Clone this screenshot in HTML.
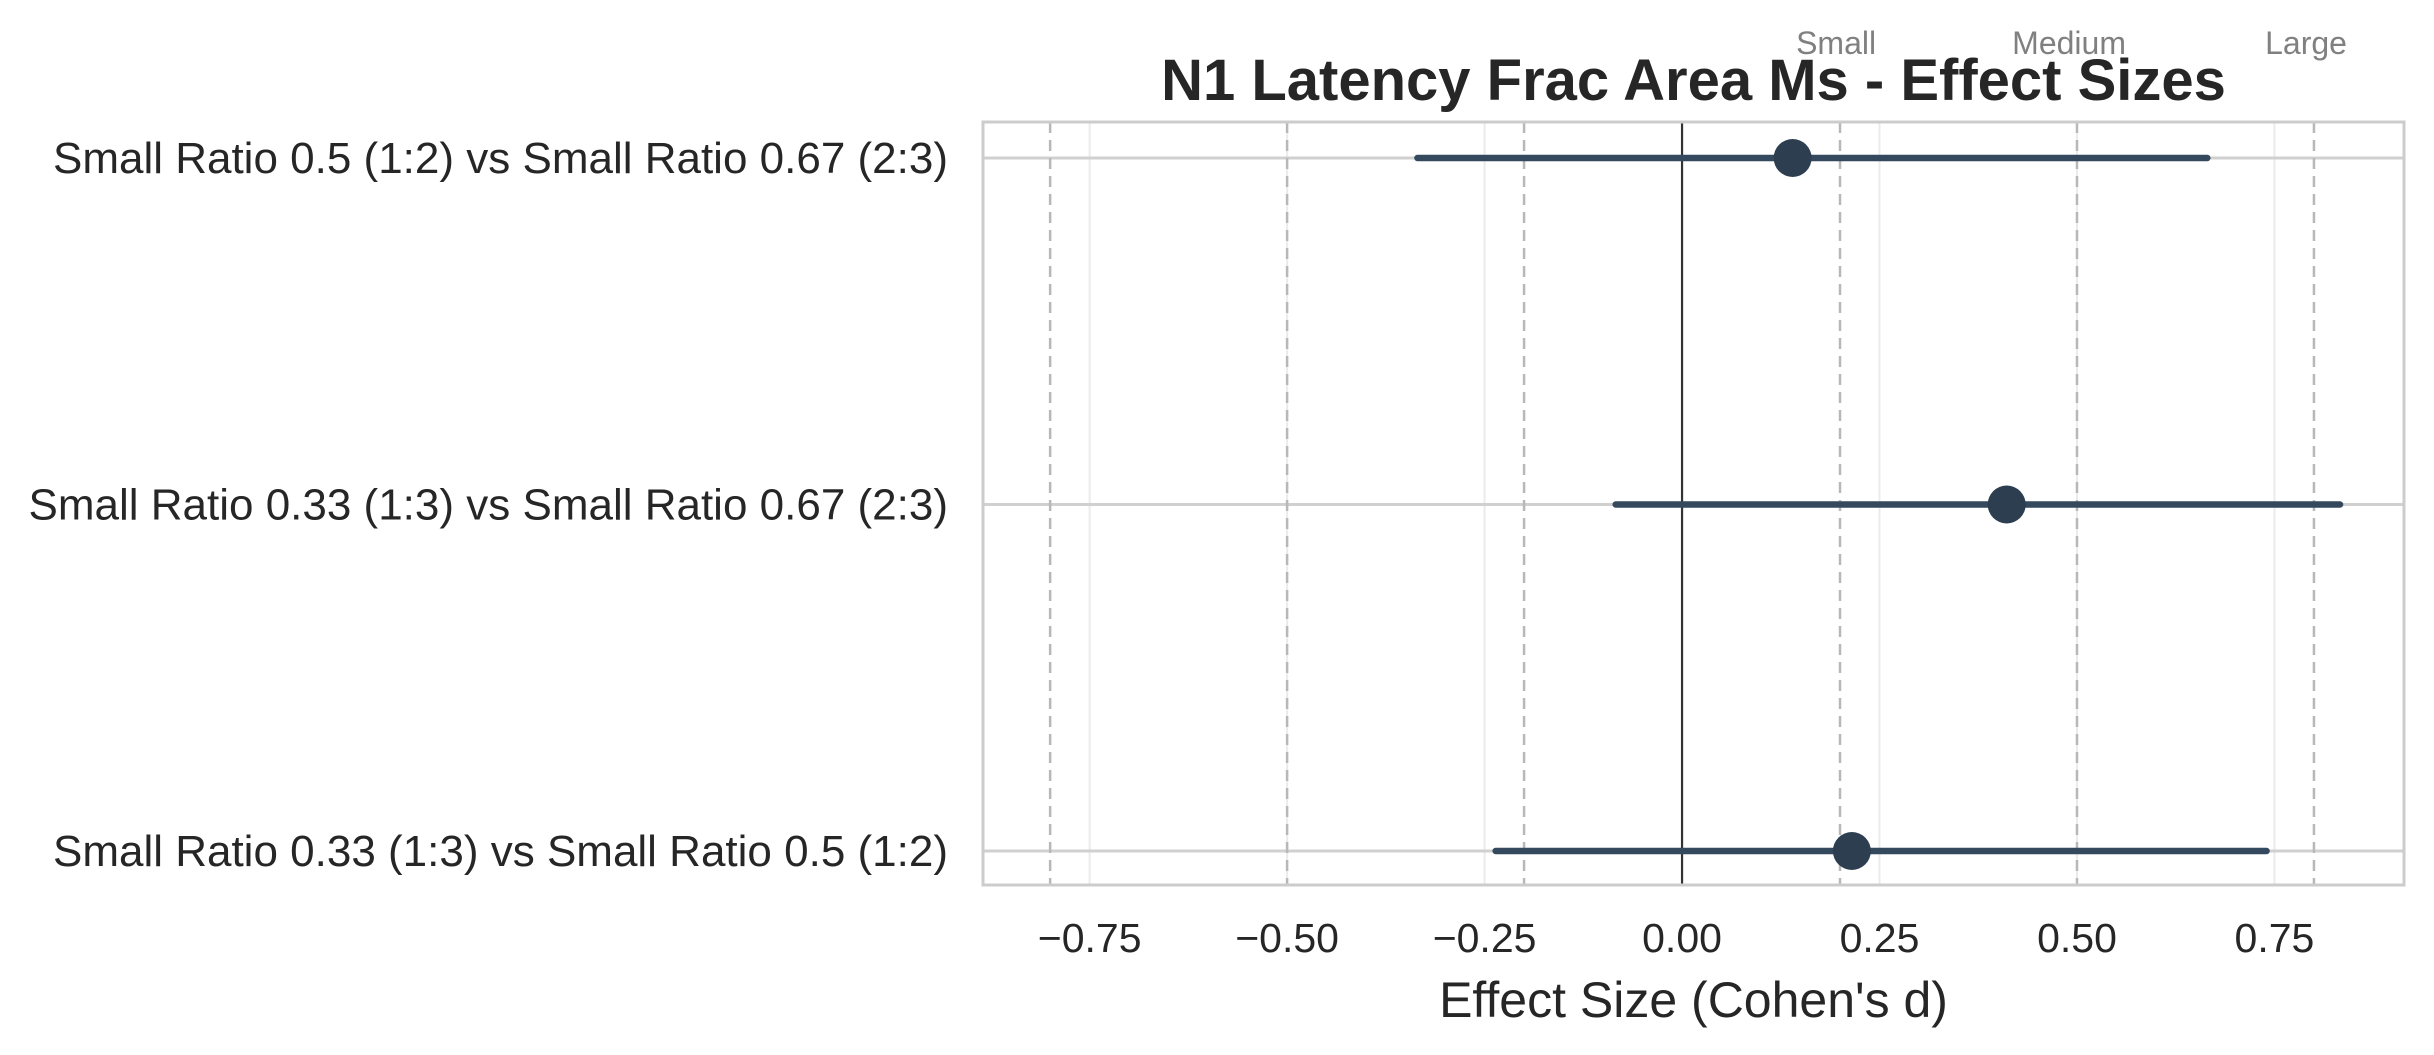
<!DOCTYPE html>
<html><head><meta charset="utf-8"><style>
html,body{margin:0;padding:0;background:#fff;}
svg{display:block;font-family:"Liberation Sans",Arial,sans-serif;}
</style></head><body>
<svg id="chart" width="2434" height="1055" viewBox="0 0 2434 1055" xmlns="http://www.w3.org/2000/svg"></svg>
<script>
const comparisons = [
  "Small Ratio 0.5 (1:2) vs Small Ratio 0.67 (2:3)",
  "Small Ratio 0.33 (1:3) vs Small Ratio 0.67 (2:3)",
  "Small Ratio 0.33 (1:3) vs Small Ratio 0.5 (1:2)"
];
const effectSizes = [0.14, 0.411, 0.215];
const ciLower = [-0.335, -0.084, -0.236];
const ciUpper = [0.665, 0.833, 0.74];
const xTicks = [-0.75, -0.5, -0.25, 0, 0.25, 0.5, 0.75];
const xTickLabels = ["\u22120.75", "\u22120.50", "\u22120.25", "0.00", "0.25", "0.50", "0.75"];
const thresholds = [-0.8, -0.5, -0.2, 0.2, 0.5, 0.8];
const thresholdLabels = ["Small", "Medium", "Large"];
const thresholdLabelX = [0.195, 0.49, 0.79];

const svg = document.getElementById('chart');
const NS = "http://www.w3.org/2000/svg";
const L = 983, R = 2404, T = 122, B = 885;
const xMin = -0.885, xMax = 0.914;
const rowY = [158, 504, 851];
function x(v){ return L + (v - xMin) / (xMax - xMin) * (R - L); }
function y(i){ return rowY[0] + i * (rowY[2] - rowY[0]) / (comparisons.length - 1); }
function mk(tag, attrs, parent){
  const e = document.createElementNS(NS, tag);
  for (const k in attrs) e.setAttribute(k, attrs[k]);
  (parent || svg).appendChild(e);
  return e;
}

xTicks.forEach((t, i) => {
  const g = mk('line', {x1:x(t), x2:x(t), y1:T, y2:B, stroke:'#ebebeb', 'stroke-width':2});
  
  
});
comparisons.forEach((c, i) => {
  const g = mk('line', {x1:L, x2:R, y1:y(i), y2:y(i), stroke:'#d0d0d0', 'stroke-width':3});
  
  
});
thresholds.forEach(t => {
  const d = mk('line', {x1:x(t), x2:x(t), y1:T, y2:B, stroke:'#b8b8b8', 'stroke-width':2.5, 'stroke-dasharray':'11,7'});
  
  
});
const z = mk('line', {x1:x(0), x2:x(0), y1:T, y2:B, stroke:'#333', 'stroke-width':2.2});


const fr = mk('rect', {x:L, y:T, width:R-L, height:B-T, fill:'none', stroke:'#cccccc', 'stroke-width':3});



comparisons.forEach((c, i) => {
  const ci = mk('line', {x1:x(ciLower[i]), x2:x(ciUpper[i]), y1:y(i), y2:y(i), stroke:'#34495e', 'stroke-width':6.5, 'stroke-linecap':'round'});
  
  
  const p = mk('circle', {cx:x(effectSizes[i]), cy:y(i), r:19, fill:'#2c3e50'});
  
  
  const lb = mk('text', {x:948, y:y(i)+15, 'text-anchor':'end', 'font-size':44, fill:'#262626'});
  lb.textContent = c;
  
  
});

xTicks.forEach((t, i) => {
  const tl = mk('text', {x:x(t), y:952, 'text-anchor':'middle', 'font-size':41, fill:'#262626'});
  tl.textContent = xTickLabels[i];
  
  
});
thresholdLabels.forEach((s, i) => {
  const tl = mk('text', {x:x(thresholdLabelX[i]), y:54, 'text-anchor':'middle', 'font-size':32, fill:'#808080'});
  tl.textContent = s;
  
  
});
const xt = mk('text', {x:(L+R)/2, y:1017, 'text-anchor':'middle', 'font-size':50, fill:'#262626'});
xt.textContent = "Effect Size (Cohen's d)";


const ti = mk('text', {x:(L+R)/2, y:100, 'text-anchor':'middle', 'font-size':58, 'font-weight':'bold', fill:'#262626'});
ti.textContent = "N1 Latency Frac Area Ms - Effect Sizes";


</script>
</body></html>
